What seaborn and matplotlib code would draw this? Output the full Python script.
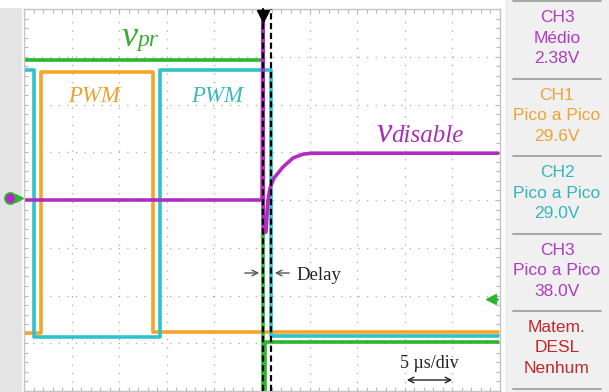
import numpy as np
import pandas as pd
import seaborn as sns
import matplotlib.pyplot as plt
import matplotlib.transforms as mtransforms
from matplotlib.patches import Rectangle
from matplotlib.ticker import MultipleLocator

# Oscilloscope capture: time in us relative to trigger (5 us/div), amplitude in screen divisions
t_ch1 = [-25, -23.2, -23.2, -11.45, -11.45, 24.8]
v_ch1 = [1.21, 1.21, 6.68, 6.68, 1.24, 1.24]
t_ch2 = [-25, -23.95, -23.95, -10.7, -10.7, 0.94, 0.94, 24.8]
v_ch2 = [6.72, 6.72, 1.13, 1.13, 6.72, 6.72, 1.15, 1.15]
t_vpr = [-25, 0.1, 0.1, 0.35, 0.35, 24.8]
v_vpr = [6.93, 6.93, -0.1, -0.1, 1.03, 1.03]
t_ch3 = [-25, 0.0, 0.1, 0.15, 0.42, 0.63, 0.84, 1.26, 2.2, 3.26, 4.31, 5.25, 24.8]
v_ch3 = [4.0, 4.0, 7.95, 3.31, 3.33, 4.0, 4.25, 4.46, 4.69, 4.88, 4.96, 4.98, 4.98]

cursor_t = [0.1, 0.94]
trig_level = 1.93
ground_level = 4.05

channels = ["CH1", "CH2", "Vpr", "CH3"]
colors = ["#f5a52a", "#2fc2ca", "#2db52d", "#b22cc2"]

panel_ch = ["CH3", "CH1", "CH2", "CH3", "Matem."]
panel_mode = ["Médio", "Pico a Pico", "Pico a Pico", "Pico a Pico", "DESL"]
panel_val = ["2.38V", "29.6V", "29.0V", "38.0V", "Nenhum"]
panel_col = ["#b03cc0", "#f0a238", "#33b6bc", "#b03cc0", "#c0282c"]

W, H = 609, 392

# pixel -> screen units, only used to place the annotations
def tx(px):
    return (px - 24) / 47.6 * 5 - 25

def dy(py):
    return (391 - py) / 47.75

frames = []
for name, t, v in zip(channels, [t_ch1, t_ch2, t_vpr, t_ch3], [v_ch1, v_ch2, v_vpr, v_ch3]):
    frames.append(pd.DataFrame({"t": t, "v": v, "ch": name}))
df = pd.concat(frames, ignore_index=True)

sns.set_style("white")
fig = plt.figure(figsize=(W / 100, H / 100), dpi=100)
fig.patch.set_facecolor("white")

# left gray strip
fig.patches.append(Rectangle((0, 0), 22 / W, 384 / H, transform=fig.transFigure,
                             facecolor="#e4e4e4", edgecolor="none", zorder=-5))

ax = fig.add_axes([24 / W, 1 / H, 476 / W, 382 / H])
ax.set_facecolor("white")
sns.lineplot(data=df, x="t", y="v", hue="ch", hue_order=channels,
             palette=dict(zip(channels, colors)), sort=False, estimator=None,
             lw=2.6, legend=False, ax=ax)
ax.set_xlim(-25, 25)
ax.set_ylim(0, 8)
ax.set_xlabel("")
ax.set_ylabel("")

ax.xaxis.set_major_locator(MultipleLocator(5))
ax.xaxis.set_minor_locator(MultipleLocator(1))
ax.yaxis.set_major_locator(MultipleLocator(1))
ax.yaxis.set_minor_locator(MultipleLocator(0.2))
ax.tick_params(which="both", direction="in", length=3, width=0.8, color="#b8b8b8",
               top=True, right=True, bottom=True, left=True,
               labelbottom=False, labelleft=False)
ax.grid(True, which="major", color="#a8a8a8", lw=0.9, linestyle=(0, (1, 5.85)))
for s in ax.spines.values():
    s.set_color("#c4c4c4")
    s.set_linewidth(1)

# delay cursors
for c in cursor_t:
    ax.axvline(c, color="black", lw=1.6, linestyle=(0, (2.8, 1.6)), zorder=5)

# trigger marker
ax.plot([cursor_t[0], cursor_t[0]], [8, dy(21)], color="black", lw=1.5, clip_on=False, zorder=6)
ax.plot([cursor_t[0]], [dy(16)], marker="v", ms=9, color="black", clip_on=False, zorder=6)

# ground markers and trigger level
ax.plot([tx(10)], [ground_level], marker="o", ms=8, color=colors[3], mec=colors[2],
        mew=1.2, clip_on=False, zorder=8)
ax.plot([tx(19)], [ground_level], marker=">", ms=6, color=colors[2], clip_on=False, zorder=8)
ax.plot([tx(491), tx(497)], [trig_level, trig_level], color=colors[2], lw=2, clip_on=False)
ax.plot([tx(491)], [trig_level], marker="<", ms=7, color=colors[2], clip_on=False)

serif = ["Liberation Serif", "DejaVu Serif"]

def two_part(x, y, big, small, color, big_size, small_size):
    t1 = ax.text(x, y, big, fontsize=big_size, style="italic", family=serif,
                 color=color, va="baseline", ha="left", zorder=7)
    fig.canvas.draw()
    w = t1.get_window_extent().width
    tr = mtransforms.offset_copy(ax.transData, fig=fig, x=w - 1, y=0, units="dots")
    ax.text(x, y, small, fontsize=small_size, style="italic", family=serif,
            color=color, va="baseline", ha="left", transform=tr, zorder=7)

two_part(tx(122), dy(46), "v", "pr", "#3aaa35", 26, 17)
two_part(tx(377), dy(142), "v", "disable", "#a830b8", 25, 18)

ax.text(tx(68), dy(102), "PWM", fontsize=16.5, style="italic", family=serif,
        color="#f0a030", va="baseline", ha="left")
ax.text(tx(191), dy(102), "PWM", fontsize=16.5, style="italic", family=serif,
        color="#3cb8c0", va="baseline", ha="left")

ax.text(tx(296), dy(280), "Delay", fontsize=13.5, family=serif, color="#222222",
        va="baseline", ha="left")
ax.annotate("", xy=(tx(262), dy(273)), xytext=(tx(242), dy(273)),
            arrowprops=dict(arrowstyle="->", color="#555555", lw=1))
ax.annotate("", xy=(tx(272), dy(273)), xytext=(tx(292), dy(273)),
            arrowprops=dict(arrowstyle="->", color="#555555", lw=1))

ax.text(tx(400), dy(368), "5 µs/div", fontsize=13, family=serif, color="#222222",
        va="baseline", ha="left")
ax.annotate("", xy=(tx(455), dy(380)), xytext=(tx(404), dy(380)),
            arrowprops=dict(arrowstyle="<->", color="#222222", lw=1))

# right measurement panel
pax = fig.add_axes([505 / W, 0, 104 / W, 1])
pax.set_xlim(0, 1)
pax.set_ylim(H, 0)
pax.axis("off")
pax.add_patch(Rectangle((0, 0), 1, H, facecolor="#f0f0f0", edgecolor="none"))
box_h = 77.5
for i in range(6):
    pax.plot([0.08, 0.92], [1 + i * box_h, 1 + i * box_h], color="#a0a0a0", lw=1.3)
narrow = ["Liberation Sans Narrow", "Liberation Sans", "DejaVu Sans"]
for i, (a, b, c, col) in enumerate(zip(panel_ch, panel_mode, panel_val, panel_col)):
    mid = 38 + i * box_h
    for j, s in enumerate([a, b, c]):
        pax.text(0.5, mid + (j - 1) * 20.5, s, fontsize=12.5, family=narrow, color=col,
                 ha="center", va="center")

fig.savefig("out.png", dpi=100)
